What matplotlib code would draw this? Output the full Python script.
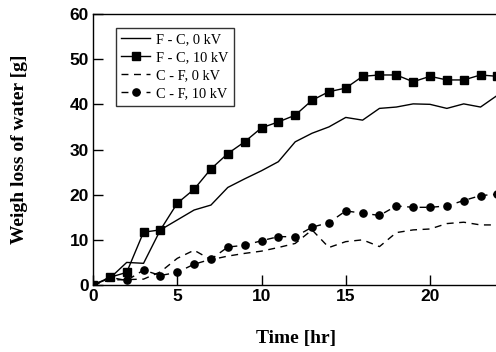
import matplotlib
matplotlib.use("Agg")
import matplotlib.pyplot as plt

hours = list(range(0, 25))

fc_0kv = [0, 1.5, 5.0, 4.8, 12.2, 14.4, 16.6, 17.7, 21.6, 23.5, 25.3, 27.3, 31.7,
          33.6, 35.0, 37.1, 36.5, 39.1, 39.4, 40.1, 40.0, 39.1, 40.1, 39.4, 42.0]
fc_10kv = [0, 1.7, 2.8, 11.7, 12.2, 18.1, 21.2, 25.7, 29.1, 31.7, 34.8, 36.1, 37.6,
           40.9, 42.8, 43.6, 46.2, 46.5, 46.5, 45.0, 46.2, 45.4, 45.4, 46.5, 46.2]
cf_0kv = [0, 1.1, 1.2, 1.3, 2.9, 5.9, 7.7, 5.6, 6.4, 7.0, 7.5, 8.3, 9.2,
          12.2, 8.3, 9.6, 10.0, 8.5, 11.6, 12.2, 12.4, 13.6, 13.9, 13.3, 13.3]
cf_10kv = [0, 1.7, 1.0, 3.3, 2.1, 2.8, 4.6, 5.7, 8.4, 8.8, 9.8, 10.7, 10.7,
           12.8, 13.8, 16.4, 15.9, 15.4, 17.5, 17.2, 17.2, 17.5, 18.7, 19.8, 20.1]

series_labels = ["F - C, 0 kV", "F - C, 10 kV", "C - F, 0 kV", "C - F, 10 kV"]
x_ticks = [0, 5, 10, 15, 20]
y_ticks = [0, 10, 20, 30, 40, 50, 60]

fig = plt.figure(figsize=(4.96, 3.52), dpi=100)
axw = 25 * 16.85
ax = fig.add_axes([93 / 496, 1 - 285 / 352, axw / 496, 271 / 352])

lw = 1.0
ax.plot(hours, fc_0kv, color="black", lw=lw, ls="-", label=series_labels[0])
ax.plot(hours, fc_10kv, color="black", lw=lw, ls="-", marker="s", markersize=5.6,
        label=series_labels[1])
ax.plot(hours, cf_0kv, color="black", lw=lw, ls=(0, (5, 4)), label=series_labels[2])
ax.plot(hours, cf_10kv, color="black", lw=lw, ls=(0, (5, 4)), marker="o", markersize=5.2,
        label=series_labels[3])

ax.set_xlim(0, 25)
ax.set_ylim(0, 60)
ax.set_xticks(x_ticks)
ax.set_yticks(y_ticks)
ax.tick_params(direction="in", length=7, width=1, labelsize=12.5, pad=3)
for lab in ax.get_xticklabels() + ax.get_yticklabels():
    lab.set_fontfamily("Liberation Sans")
    lab.set_fontweight("bold")
for sp in ax.spines.values():
    sp.set_linewidth(1.0)

ax.set_xlabel("Time [hr]", fontfamily="Liberation Serif", fontweight="bold", fontsize=14)
ax.set_ylabel("Weigh loss of water [g]", fontfamily="Liberation Serif", fontweight="bold",
              fontsize=14)
ax.xaxis.set_label_coords((296 - 93) / axw, -(330 - 285) / 271)
ax.yaxis.set_label_coords(-(93 - 28) / axw, 0.5)

leg = ax.legend(loc="upper left", bbox_to_anchor=(23 / axw, 0.949),
                prop={"family": "Liberation Serif", "size": 10.4}, frameon=True,
                fancybox=False, handlelength=2.0, handletextpad=0.45,
                borderpad=0.35, labelspacing=0.35, borderaxespad=0)
leg.get_frame().set_edgecolor("black")
leg.get_frame().set_linewidth(1.0)

fig.savefig("out.png", dpi=100)
